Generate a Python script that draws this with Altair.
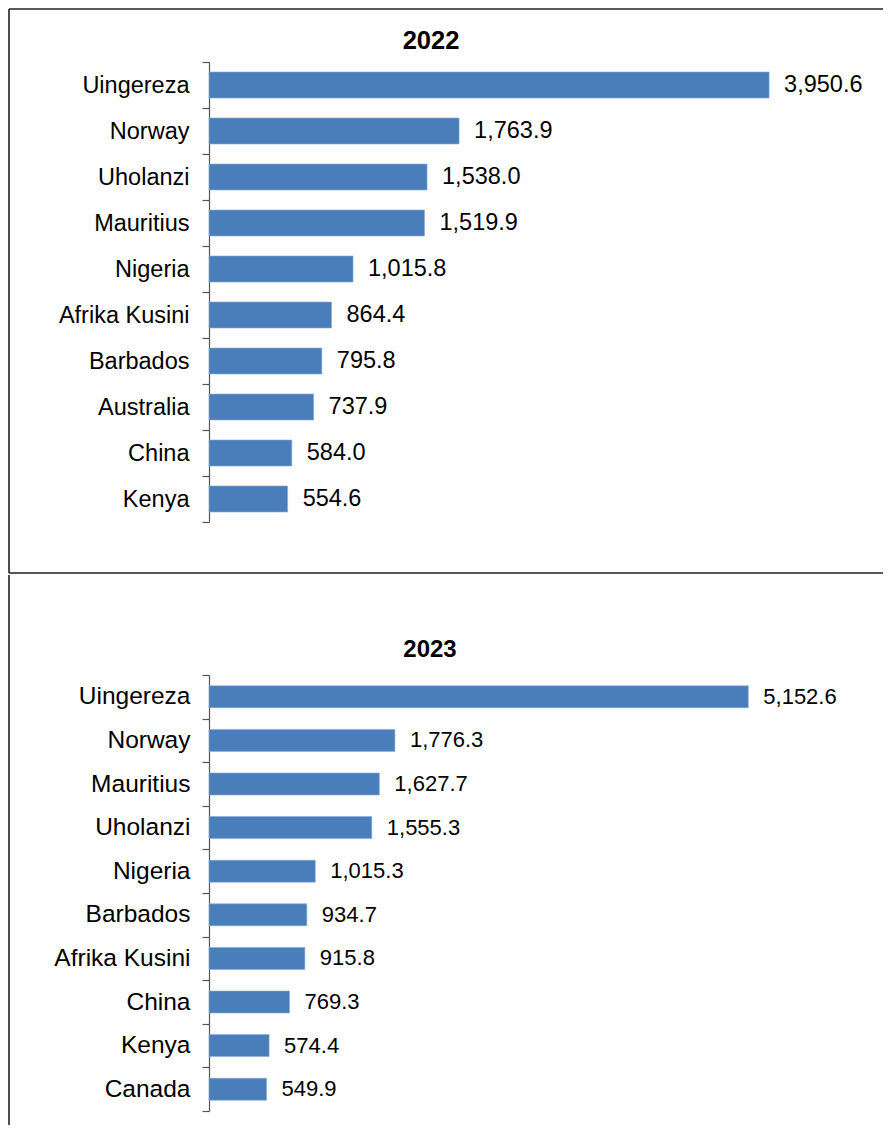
import altair as alt
import pandas as pd

# ---- data ----
countries_2022 = ["Uingereza", "Norway", "Uholanzi", "Mauritius", "Nigeria",
                  "Afrika Kusini", "Barbados", "Australia", "China", "Kenya"]
values_2022 = [3950.6, 1763.9, 1538.0, 1519.9, 1015.8, 864.4, 795.8, 737.9, 584.0, 554.6]

countries_2023 = ["Uingereza", "Norway", "Mauritius", "Uholanzi", "Nigeria",
                  "Barbados", "Afrika Kusini", "China", "Kenya", "Canada"]
values_2023 = [5152.6, 1776.3, 1627.7, 1555.3, 1015.3, 934.7, 915.8, 769.3, 574.4, 549.9]

BAR = "#4A7EBB"
FONT = "Liberation Sans"
LINE = "#222222"


def panel(year, countries, values, xmax, width, step, bar_size,
          label_size, value_size, title_size, label_pad,
          box_left, box_top, box_bottom, box_right, draw_top, draw_bottom,
          title_x, title_y):
    df = pd.DataFrame({"country": countries, "value": values})
    height = step * len(countries)
    y = alt.Y("country:N", sort=countries, title=None,
              scale=alt.Scale(paddingInner=0, paddingOuter=0),
              axis=alt.Axis(tickBand="extent", labelFontSize=label_size, labelFont=FONT,
                            labelColor="black", labelPadding=label_pad, tickSize=7,
                            domainColor="#555555", tickColor="#555555",
                            domainWidth=1.2, tickWidth=1.2, grid=False, labelLimit=400))
    x = alt.X("value:Q", scale=alt.Scale(domain=[0, xmax], nice=False, zero=True), axis=None)
    base = alt.Chart(df).encode(y=y, x=x)
    bars = base.mark_bar(height=bar_size, color=BAR, stroke="#86abd9", strokeWidth=0.6)
    texts = base.mark_text(align="left", baseline="middle", dx=15, font=FONT,
                           fontSize=value_size, color="black").encode(
        text=alt.Text("value:Q", format=",.1f"))

    one = pd.DataFrame({"k": [0]})
    rule = alt.Chart(one).mark_rule(color=LINE, strokeWidth=1.6)
    layers = [bars, texts,
              rule.encode(x=alt.value(box_left), y=alt.value(box_top), y2=alt.value(box_bottom))]
    if draw_top:
        layers.append(rule.encode(x=alt.value(box_left), x2=alt.value(box_right), y=alt.value(box_top)))
    if draw_bottom:
        layers.append(rule.encode(x=alt.value(box_left), x2=alt.value(box_right), y=alt.value(box_bottom)))
    title = alt.Chart(pd.DataFrame({"t": [year]})).mark_text(
        font=FONT, fontSize=title_size, fontWeight="bold", color="black",
        align="center", baseline="middle").encode(
        text="t:N", x=alt.value(title_x), y=alt.value(title_y))
    layers.append(title)
    return alt.layer(*layers).properties(width=width, height=height)


top = panel("2022", countries_2022, values_2022, xmax=4500, width=638, step=46, bar_size=26,
            label_size=23.5, value_size=23.5, title_size=25.5, label_pad=13,
            box_left=-200, box_top=-53, box_bottom=511, box_right=674,
            draw_top=True, draw_bottom=True, title_x=222, title_y=-21)

bottom = panel("2023", countries_2023, values_2023, xmax=6000, width=628, step=43.6, bar_size=22,
               label_size=24.5, value_size=22, title_size=24, label_pad=12,
               box_left=-200, box_top=-100, box_bottom=450, box_right=674,
               draw_top=False, draw_bottom=False, title_x=221, title_y=-25)

chart = alt.vconcat(top, bottom, spacing=0).properties(padding=0).configure_view(stroke=None)

chart.save("out.html", embed_options={"renderer": "svg", "actions": False})
